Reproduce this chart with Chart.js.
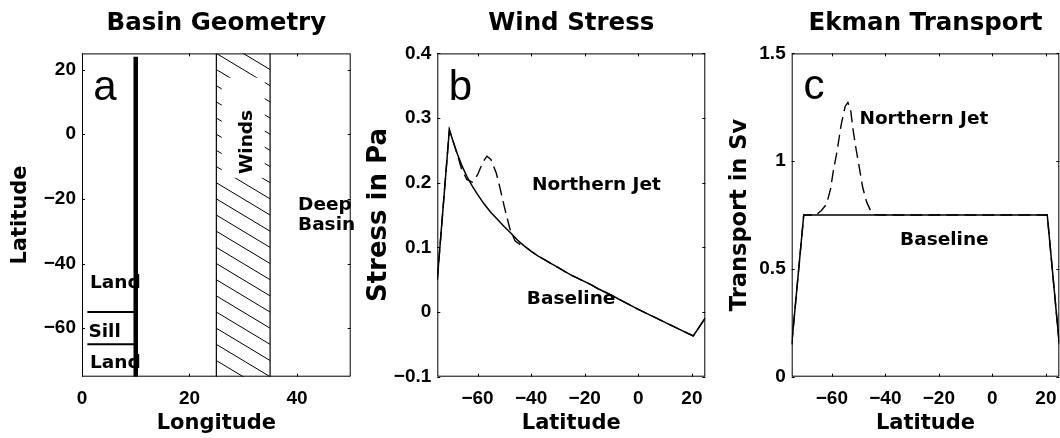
<!DOCTYPE html>
<html><head><meta charset="utf-8">
<script src="https://cdn.jsdelivr.net/npm/chart.js@4/dist/chart.umd.min.js"></script>
<style>
html,body{margin:0;padding:0;background:#fff;}
#wrap{position:relative;width:1060px;height:438px;overflow:hidden;background:#fff;}
canvas{position:absolute;top:0;}
</style></head><body>
<div id="wrap">
<canvas id="ca" width="360" height="438" style="left:0px"></canvas>
<canvas id="cb" width="355" height="438" style="left:360px"></canvas>
<canvas id="cc" width="345" height="438" style="left:715px"></canvas>
</div>
<script>
// ---------- tick labels ----------
const basinLonTicks = [0, 20, 40];
const basinLatTicks = [20, 0, -20, -40, -60];
const latTicks = [-60, -40, -20, 0, 20];
const stressTicks = [0.4, 0.3, 0.2, 0.1, 0, -0.1];
const transportTicks = [1.5, 1, 0.5, 0];

// ---------- panel a : basin geometry ----------
const ridgeLon = [10, 10];
const ridgeLat = [-75, 24];
const sillLon = [1, 10];
const sillNorthLat = [-55, -55];
const sillSouthLat = [-65, -65];
const windWestLon = [25, 25];
const windEastLon = [35, 35];
const windBandLat = [-75, 25];

// ---------- panel b : wind stress (Pa) ----------
const stressLat = [-75, -70.5, -68, -66, -64, -62, -60, -57.5, -55, -52.5, -50, -47.5, -45, -42.5, -40, -37.5, -35, -32.5, -30, -27.5, -25, -22.5, -20, -17.5, -15, -10, -5, 0, 5, 10, 15, 20.5, 25];
const stressBaseline = [0.05, 0.282, 0.25, 0.228, 0.21, 0.195, 0.182, 0.167, 0.154, 0.143, 0.132, 0.122, 0.111, 0.102, 0.094, 0.087, 0.081, 0.075, 0.069, 0.063, 0.057, 0.052, 0.047, 0.042, 0.036, 0.026, 0.015, 0.004, -0.006, -0.016, -0.026, -0.037, -0.009];
const stressJetLat = [-75, -70.5, -68, -66, -64, -62, -60, -58, -56.5, -55, -53, -51.5, -50, -48, -46, -44, -42.5, -40, -37.5, -35, -32.5, -30, -27.5, -25, -22.5, -20, -17.5, -15, -10, -5, 0, 5, 10, 15, 20.5, 25];
const stressNorthernJet = [0.05, 0.282, 0.25, 0.222, 0.205, 0.201, 0.212, 0.232, 0.241, 0.236, 0.215, 0.19, 0.163, 0.13, 0.11, 0.104, 0.102, 0.094, 0.087, 0.081, 0.075, 0.069, 0.063, 0.057, 0.052, 0.047, 0.042, 0.036, 0.026, 0.015, 0.004, -0.006, -0.016, -0.026, -0.037, -0.009];

// ---------- panel c : Ekman transport (Sv) ----------
const transportLat = [-75, -70.5, 20.5, 25];
const transportBaseline = [0.15, 0.75, 0.75, 0.15];
const transportJetLat = [-75, -70.5, -66, -64, -62, -60.5, -59.5, -58, -56.5, -55, -54, -53, -52, -51, -50, -48.5, -47, -45.5, -44, -42, 20.5, 25];
const transportNorthernJet = [0.15, 0.75, 0.75, 0.77, 0.8, 0.87, 0.95, 1.05, 1.17, 1.255, 1.272, 1.24, 1.14, 1.06, 0.99, 0.88, 0.81, 0.77, 0.752, 0.75, 0.75, 0.15];

// ---------- helpers ----------
const pts = (xs, ys) => xs.map((x, i) => ({x: x, y: ys[i]}));
const TICKFONT = {family: 'Liberation Sans', weight: 'bold', size: 19};
const BOLD = 'DejaVu Sans';
const fmt = v => String(v).replace('-', '\u2212');

function framePlugin(xt, yt) {
  return {
    id: 'frame',
    afterDraw(chart) {
      const {ctx, chartArea: a, scales: {x, y}} = chart;
      ctx.save();
      ctx.strokeStyle = '#000';
      ctx.lineWidth = 1;
      ctx.strokeRect(a.left + 0.5, a.top + 0.5, a.right - a.left - 1, a.bottom - a.top - 1);
      ctx.beginPath();
      const L = 3;
      xt.forEach(v => {
        const p = Math.round(x.getPixelForValue(v)) + 0.5;
        ctx.moveTo(p, a.bottom); ctx.lineTo(p, a.bottom - L);
        ctx.moveTo(p, a.top); ctx.lineTo(p, a.top + L);
      });
      yt.forEach(v => {
        const p = Math.round(y.getPixelForValue(v)) + 0.5;
        ctx.moveTo(a.left, p); ctx.lineTo(a.left + L, p);
        ctx.moveTo(a.right, p); ctx.lineTo(a.right - L, p);
      });
      ctx.stroke();
      ctx.restore();
    }
  };
}

function labelsPlugin(items, extra) {
  return {
    id: 'labels',
    beforeDatasetsDraw(chart) {
      const {ctx, scales: {x, y}} = chart;
      ctx.save();
      if (extra) extra(chart);
      ctx.fillStyle = '#000';
      ctx.textAlign = 'left';
      ctx.textBaseline = 'alphabetic';
      items.forEach(it => {
        ctx.font = it.font;
        ctx.fillText(it.text, x.getPixelForValue(it.x), y.getPixelForValue(it.y));
      });
      ctx.restore();
    }
  };
}

function axisCfg(min, max, tickArr, titleText, titleSize, isX, size, titlePad) {
  return {
    type: 'linear', min: min, max: max,
    afterBuildTicks: s => { s.ticks = tickArr.map(v => ({value: v})); },
    afterFit: s => { if (isX) s.height = size; else s.width = size; },
    grid: {display: false, drawTicks: isX, tickLength: 11},
    border: {display: false},
    ticks: {font: TICKFONT, color: '#000', padding: isX ? 0 : 6, autoSkip: false, maxRotation: 0, callback: v => fmt(v)},
    title: {display: true, text: titleText, color: '#000',
      font: {family: BOLD, weight: 'bold', size: titleSize},
      padding: titlePad}
  };
}

function baseOptions(title, rightPad, xs, ys) {
  return {
    responsive: false, animation: false, devicePixelRatio: 1,
    layout: {padding: {left: 0, right: rightPad, top: 0, bottom: 0}},
    plugins: {
      legend: {display: false}, tooltip: {enabled: false},
      title: {display: true, text: title, color: '#000', fullSize: false,
        font: {family: BOLD, weight: 'bold', size: 24.5}, padding: {top: 9, bottom: 15}}
    },
    scales: {x: xs, y: ys},
    elements: {point: {radius: 0}}
  };
}

const lineDs = (data, w, dash) => ({data: data, showLine: true, borderColor: '#000', borderWidth: w, borderDash: dash || [], pointRadius: 0, tension: 0, fill: false, borderCapStyle: 'butt'});

// ---------- Panel a ----------
const LBL = `bold 18.5px "${BOLD}"`;
const LETTER = '42px "Liberation Sans"';
const basinLabels = [
  {text: 'a', x: 2.1, y: 10.5, font: LETTER},
  {text: 'Land', x: 1.5, y: -47.7, font: LBL},
  {text: 'Sill', x: 1.2, y: -62.7, font: LBL},
  {text: 'Land', x: 1.5, y: -72.4, font: LBL},
  {text: 'Deep', x: 40.2, y: -23.3, font: LBL},
  {text: 'Basin', x: 40.2, y: -29.5, font: LBL}
];
function drawWindBand(chart) {
  const {ctx, scales: {x, y}} = chart;
  const x0 = x.getPixelForValue(windWestLon[0]), x1 = x.getPixelForValue(windEastLon[0]);
  const yT = y.getPixelForValue(windBandLat[1]), yB = y.getPixelForValue(windBandLat[0]);
  ctx.save();
  ctx.beginPath(); ctx.rect(x0, yT, x1 - x0, yB - yT); ctx.clip();
  ctx.strokeStyle = '#000'; ctx.lineWidth = 1;
  ctx.beginPath();
  for (let c = windBandLat[0]; c <= windBandLat[1] + 10; c += 5) {
    ctx.moveTo(x0, y.getPixelForValue(c));
    ctx.lineTo(x1, y.getPixelForValue(c - 10));
  }
  ctx.stroke();
  // white background of the "Winds" text box
  ctx.fillStyle = '#fff';
  const bx0 = x.getPixelForValue(26), bx1 = x.getPixelForValue(34);
  const by0 = y.getPixelForValue(17.5), by1 = y.getPixelForValue(-13.5);
  ctx.fillRect(bx0, by0, bx1 - bx0, by1 - by0);
  ctx.restore();
  ctx.save();
  ctx.fillStyle = '#000';
  ctx.font = LBL;
  ctx.translate(x.getPixelForValue(31.6), y.getPixelForValue(-2.4));
  ctx.rotate(-Math.PI / 2);
  ctx.textAlign = 'center'; ctx.textBaseline = 'alphabetic';
  ctx.fillText('Winds', 0, 0);
  ctx.restore();
}

new Chart(document.getElementById('ca'), {
  type: 'scatter',
  data: {datasets: [
    lineDs(pts(windWestLon, windBandLat), 1.2),
    lineDs(pts(windEastLon, windBandLat), 1.2),
    lineDs(pts(sillLon, sillNorthLat), 2),
    lineDs(pts(sillLon, sillSouthLat), 2),
    lineDs(pts(ridgeLon, ridgeLat), 4.5)
  ]},
  options: baseOptions('Basin Geometry', 9.3,
    axisCfg(0, 50, basinLonTicks, 'Longitude', 21, true, 61.3, {top: 0, bottom: 2}),
    axisCfg(-75, 25, basinLatTicks, 'Latitude', 21, false, 82, {top: 8.4, bottom: 0})),
  plugins: [labelsPlugin(basinLabels, drawWindBand), framePlugin(basinLonTicks, basinLatTicks)]
});

// ---------- Panel b ----------
const stressLabels = [
  {text: 'b', x: -70.7, y: 0.328, font: LETTER},
  {text: 'Northern Jet', x: -39.7, y: 0.188, font: LBL},
  {text: 'Baseline', x: -41.6, y: 0.012, font: LBL}
];
new Chart(document.getElementById('cb'), {
  type: 'scatter',
  data: {datasets: [
    lineDs(pts(stressJetLat, stressNorthernJet), 1.4, [12, 6]),
    lineDs(pts(stressLat, stressBaseline), 1.5)
  ]},
  options: baseOptions('Wind Stress', 9.7,
    axisCfg(-75, 25, latTicks, 'Latitude', 21, true, 61.3, {top: 0, bottom: 2}),
    axisCfg(-0.1, 0.4, stressTicks, 'Stress in Pa', 26, false, 77.3, {top: 4, bottom: 0})),
  plugins: [labelsPlugin(stressLabels), framePlugin(latTicks, stressTicks)]
});

// ---------- Panel c ----------
const transportLabels = [
  {text: 'c', x: -70.6, y: 1.287, font: LETTER},
  {text: 'Northern Jet', x: -49.7, y: 1.171, font: LBL},
  {text: 'Baseline', x: -34.5, y: 0.613, font: LBL}
];
new Chart(document.getElementById('cc'), {
  type: 'scatter',
  data: {datasets: [
    lineDs(pts(transportJetLat, transportNorthernJet), 1.4, [12, 6]),
    lineDs(pts(transportLat, transportBaseline), 1.5)
  ]},
  options: baseOptions('Ekman Transport', 0.7,
    axisCfg(-75, 25, latTicks, 'Latitude', 21, true, 61.3, {top: 0, bottom: 2}),
    axisCfg(0, 1.5, transportTicks, 'Transport in Sv', 22.5, false, 76.7, {top: 12, bottom: 0})),
  plugins: [labelsPlugin(transportLabels), framePlugin(latTicks, transportTicks)]
});
</script>
</body></html>
